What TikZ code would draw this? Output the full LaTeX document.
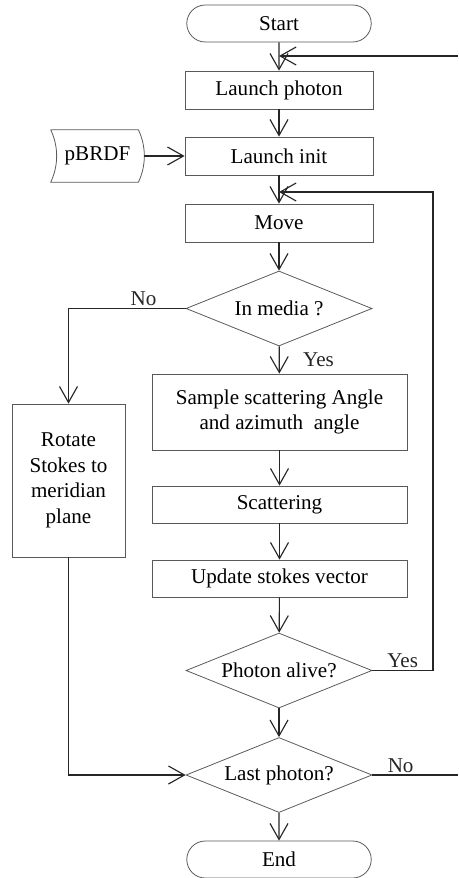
\documentclass[tikz,border=0pt]{standalone}
\usepackage{fontspec}
\setmainfont{Liberation Serif}
\usepackage{tikz}
\usetikzlibrary{shapes.geometric,shapes.misc,arrows.meta,positioning}
\tikzset{boxpr/.style={draw=black!65, line width=0.45pt, minimum width=3.76cm, minimum height=0.76cm, inner sep=1pt, align=center}}
\tikzset{boxtm/.style={rounded rectangle, draw=black!65, line width=0.45pt, minimum width=3.76cm, minimum height=0.74cm, inner sep=1pt}}
\tikzset{boxdc/.style={diamond, draw=black!65, line width=0.45pt, aspect=2.48, minimum width=3.72cm, minimum height=1.5cm, inner sep=0pt}}
\tikzset{boxln/.style={draw=black!65, line width=0.45pt}}
\tikzset{
  edgefl/.style={black!85, line width=0.65pt, -{Straight Barb[length=0.32cm,width=0.36cm]}},
  edgepl/.style={black!85, line width=0.65pt}
}

\begin{document}
\begin{tikzpicture}[x=0.02cm, y=-0.02cm, font=\fontsize{12}{14.5}\selectfont]
\useasboundingbox (0,0) rectangle (458,878);
\node[boxtm] (start) at (279,23.5) {Start};
\node[boxpr] (launch) at (279,90) {Launch photon};
\node[boxpr] (init) at (279,156) {Launch init};
\node[minimum width=1.86cm, minimum height=1.04cm, inner sep=0pt] (pbrdf) at (97.5,156) {pBRDF};
\node[boxpr] (move) at (279,223) {Move};
\node[boxdc] (media) at (279,308.5) {In media ?};
\node[boxpr, minimum width=5.1cm, minimum height=1.52cm] (sample) at (279.5,412) {Sample scattering Angle\\and azimuth\ \ angle};
\node[boxpr, minimum width=2.26cm, minimum height=3.06cm] (rotate) at (68.5,480.5) {Rotate\\Stokes to\\meridian\\plane};
\node[boxpr, minimum width=5.1cm, minimum height=0.74cm] (scat) at (279.5,504.5) {Scattering};
\node[boxpr, minimum width=5.1cm, minimum height=0.74cm] (update) at (279.5,578.5) {Update stokes vector};
\node[boxdc] (alive) at (279,670.5) {Photon alive?};
\node[boxdc] (last) at (279,775) {Last photon?};
\node[boxtm] (end) at (279,859.5) {End};
\coordinate (fbtop) at (279,56);
\coordinate (fbtopr) at (458,56);
\coordinate (fbmid) at (279,192);
\coordinate (fbmidr) at (433,192);
\coordinate (lastr) at (458,775);
\draw[boxln] (pbrdf.north west) -- ([xshift=-0.12cm]pbrdf.north east)
  .. controls +(8,17) and +(8,-17) .. ([xshift=-0.12cm]pbrdf.south east)
  -- (pbrdf.south west) .. controls +(8,-17) and +(8,17) .. (pbrdf.north west);
\draw[edgefl] (start) -- (launch);
\draw[edgefl] (fbtopr) -- (fbtop);
\draw[edgefl] (launch) -- (init);
\draw[edgefl] (pbrdf) -- (init);
\draw[edgefl] (init) -- (move);
\draw[edgefl] (move) -- (media);
\draw[edgefl] (media) -- node[right=0.35cm] {Yes} (sample);
\draw[edgefl] (media.west) -- node[above, pos=0.36, inner sep=1pt] {No} (media.west -| rotate) -- (rotate);
\draw[edgefl] (sample) -- (scat);
\draw[edgefl] (scat) -- (update);
\draw[edgefl] (update) -- (alive);
\draw[edgefl] (alive.east) -- node[above, pos=0.5, inner sep=1pt] {Yes} (alive.east -| fbmidr) -- (fbmidr) -- (fbmid);
\draw[edgefl] (alive) -- (last);
\draw[edgefl] (rotate) -- (rotate |- last) -- (last.west);
\draw[edgepl] (last.east) -- node[above, pos=0.33, inner sep=1pt] {No} (lastr);
\draw[edgefl] (last) -- (end);
\end{tikzpicture}
\end{document}
